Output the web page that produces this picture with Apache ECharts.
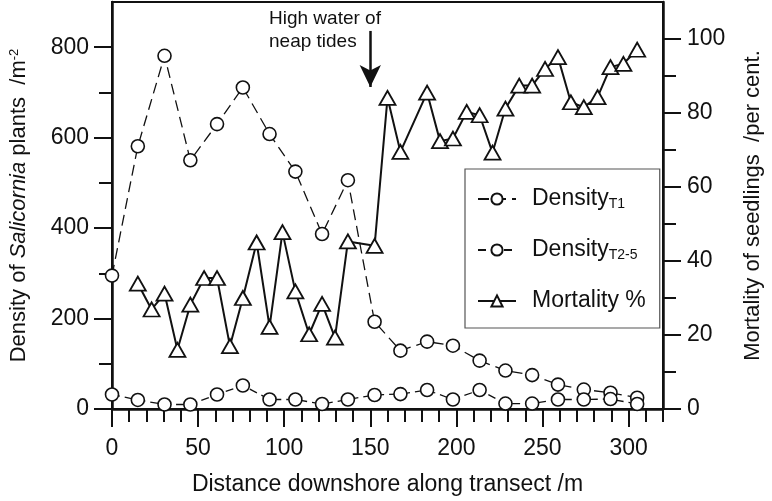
<!DOCTYPE html>
<html>
<head>
<meta charset="utf-8">
<script src="https://cdn.jsdelivr.net/npm/echarts@6/dist/echarts.min.js"></script>
<style>
  html, body { margin: 0; padding: 0; background: #fff; }
  #chart { width: 772px; height: 501px; }
</style>
</head>
<body>
<div id="chart"></div>
<script>
// ---- data ----
const distance   = [0, 15, 30.5, 45.5, 61, 76, 91.5, 106.5, 122, 137, 152.5, 167.5, 183, 198, 213.5, 228.5, 244, 259, 274, 289.5, 305];
const densityT1  = [295, 581, 781, 550, 630, 711, 608, 525, 387, 506, 193, 129, 149, 140, 107, 85, 75, 54, 43, 36, 25];
const densityT25 = [32, 20, 10, 10, 32, 52, 21, 21, 11, 21, 31, 33, 42, 21, 42, 12, 12, 21, 21, 22, 11];

const mortDistance = [15, 23, 30.5, 38, 45.5, 53.5, 61, 68.5, 76, 84, 91.5, 99, 106.5, 114.5, 122, 129.5, 137, 152.5, 160, 167.5, 183, 190.5, 198, 206, 213.5, 221, 228.5, 236.5, 244, 251.5, 259, 266.5, 274, 282, 289.5, 297, 305];
const mortality    = [33.9, 26.9, 31.2, 16, 28.2, 35.4, 35.4, 17, 30, 45, 22.2, 47.8, 31.8, 20.2, 28.4, 19.3, 45.3, 44.1, 84.1, 69.5, 85.5, 72.4, 73.1, 80.3, 79.4, 69.3, 81.2, 87.4, 87.4, 91.9, 95.1, 82.9, 81.6, 84.3, 92.4, 93.3, 97.1];

// tick values
const xMajorTicks = [0, 50, 100, 150, 200, 250, 300];
const xMinorTicks = [10, 20, 30, 40, 60, 70, 80, 90, 110, 120, 130, 140, 160, 170, 180, 190, 210, 220, 230, 240, 260, 270, 280, 290, 310, 320];
const yLeftMajor  = [0, 200, 400, 600, 800];
const yLeftMinor  = [100, 300, 500, 700];
const yRightMajor = [0, 20, 40, 60, 80, 100];
const yRightMinor = [10, 30, 50, 70, 90];

// annotation (data coordinates)
const arrowX = 150, arrowTop = 836, arrowTip = 712;
const annotationText = 'High water of\nneap tides';

const names = { t1: 'Density T1', t25: 'Density T2-5', mort: 'Mortality %' };

const INK = '#111';
const FONT = 'Liberation Sans, Arial, Helvetica, sans-serif';

function pairs(xs, ys) { return xs.map((x, i) => [x, ys[i]]); }

const chart = echarts.init(document.getElementById('chart'), null, { renderer: 'canvas' });

const majorAxisCommon = {
  type: 'value',
  splitLine: { show: false },
  axisLine: { show: true, lineStyle: { color: INK, width: 2.5 } },
  axisTick: { show: true, inside: false, length: 18, lineStyle: { color: INK, width: 2 } },
  axisLabel: { color: INK, fontSize: 23, fontFamily: FONT }
};
const minorAxisCommon = {
  type: 'value',
  splitLine: { show: false },
  axisLine: { show: false },
  axisLabel: { show: false },
  axisTick: { show: true, inside: false, length: 13, lineStyle: { color: INK, width: 2 } }
};

const option = {
  animation: false,
  backgroundColor: '#fff',
  textStyle: { fontFamily: FONT, color: INK },
  grid: { left: 111, right: 103, top: 2, bottom: 91, show: true, borderColor: INK, borderWidth: 2, backgroundColor: 'transparent' },
  xAxis: [
    Object.assign({}, majorAxisCommon, {
      min: 0, max: 320, position: 'bottom',
      axisTick: Object.assign({}, majorAxisCommon.axisTick, { customValues: xMajorTicks }),
      axisLabel: Object.assign({}, majorAxisCommon.axisLabel, { customValues: xMajorTicks, margin: 28 }),
      name: 'Distance downshore along transect /m',
      nameLocation: 'middle', nameGap: 64,
      nameTextStyle: { fontSize: 23, color: INK, fontFamily: FONT }
    }),
    Object.assign({}, minorAxisCommon, {
      min: 0, max: 320, position: 'bottom',
      axisTick: Object.assign({}, minorAxisCommon.axisTick, { customValues: xMinorTicks })
    })
  ],
  yAxis: [
    Object.assign({}, majorAxisCommon, {
      min: 0, max: 900, position: 'left',
      axisTick: Object.assign({}, majorAxisCommon.axisTick, { customValues: yLeftMajor }),
      axisLabel: Object.assign({}, majorAxisCommon.axisLabel, { customValues: yLeftMajor, margin: 23 }),
      name: 'Density of {i|Salicornia} plants  /m{sup|-2}',
      nameLocation: 'middle', nameGap: 82, nameRotate: 90,
      nameTextStyle: {
        fontSize: 22, color: INK, fontFamily: FONT,
        rich: {
          i: { fontSize: 22, fontStyle: 'italic', color: INK, fontFamily: FONT },
          sup: { fontSize: 13, color: INK, fontFamily: FONT, verticalAlign: 'top' }
        }
      }
    }),
    Object.assign({}, minorAxisCommon, {
      min: 0, max: 900, position: 'left',
      axisTick: Object.assign({}, minorAxisCommon.axisTick, { customValues: yLeftMinor })
    }),
    Object.assign({}, majorAxisCommon, {
      min: 0, max: 110, position: 'right',
      axisTick: Object.assign({}, majorAxisCommon.axisTick, { customValues: yRightMajor }),
      axisLabel: Object.assign({}, majorAxisCommon.axisLabel, { customValues: yRightMajor, margin: 24 }),
      name: 'Mortality of seedlings  /per cent.',
      nameLocation: 'middle', nameGap: 79, nameRotate: 90,
      nameTextStyle: { fontSize: 22, color: INK, fontFamily: FONT }
    }),
    Object.assign({}, minorAxisCommon, {
      min: 0, max: 110, position: 'right',
      axisTick: Object.assign({}, minorAxisCommon.axisTick, { customValues: yRightMinor })
    })
  ],
  legend: {
    orient: 'vertical',
    left: 465, top: 169,
    padding: [18, 14, 15, 12],
    itemGap: 27,
    itemWidth: 38, itemHeight: 14,
    borderColor: '#555', borderWidth: 1.2,
    backgroundColor: '#fff',
    selectedMode: false,
    data: [names.t1, names.t25, names.mort],
    formatter: function (name) {
      if (name === names.t1) return 'Density{s|T1}';
      if (name === names.t25) return 'Density{s|T2-5}';
      return 'Mortality %';
    },
    textStyle: {
      fontSize: 23, color: INK, fontFamily: FONT, lineHeight: 24, padding: [0, 0, 0, 11],
      rich: { s: { fontSize: 14, color: INK, fontFamily: FONT, verticalAlign: 'bottom', lineHeight: 24 } }
    }
  },
  graphic: [
    {
      type: 'text', left: 269, top: 7, z: 100,
      style: { text: annotationText, font: '19px ' + FONT, fill: INK, lineHeight: 23 }
    }
  ],
  series: [
    {
      name: names.t1, type: 'line', xAxisIndex: 0, yAxisIndex: 0,
      data: pairs(distance, densityT1),
      symbol: 'circle', symbolSize: 13, showAllSymbol: true,
      itemStyle: { color: '#fff', borderColor: INK, borderWidth: 1.6 },
      lineStyle: { color: INK, width: 1.3, type: [11, 6] },
      z: 3,
      markLine: {
        silent: true, animation: false,
        symbol: ['none', 'arrow'], symbolSize: [16, 22],
        lineStyle: { color: INK, width: 2.5, type: 'solid' },
        label: { show: false },
        data: [[{ coord: [arrowX, arrowTop] }, { coord: [arrowX, arrowTip] }]]
      }
    },
    {
      name: names.t25, type: 'line', xAxisIndex: 0, yAxisIndex: 0,
      data: pairs(distance, densityT25),
      symbol: 'circle', symbolSize: 13, showAllSymbol: true,
      itemStyle: { color: '#fff', borderColor: INK, borderWidth: 1.6 },
      lineStyle: { color: INK, width: 1.3, type: [8, 5] },
      z: 3
    },
    {
      name: names.mort, type: 'line', xAxisIndex: 0, yAxisIndex: 2,
      data: pairs(mortDistance, mortality),
      symbol: 'triangle', symbolSize: [16, 14], showAllSymbol: true,
      itemStyle: { color: '#fff', borderColor: INK, borderWidth: 1.8 },
      lineStyle: { color: INK, width: 2 },
      z: 4
    }
  ]
};

chart.setOption(option);
</script>
</body>
</html>
